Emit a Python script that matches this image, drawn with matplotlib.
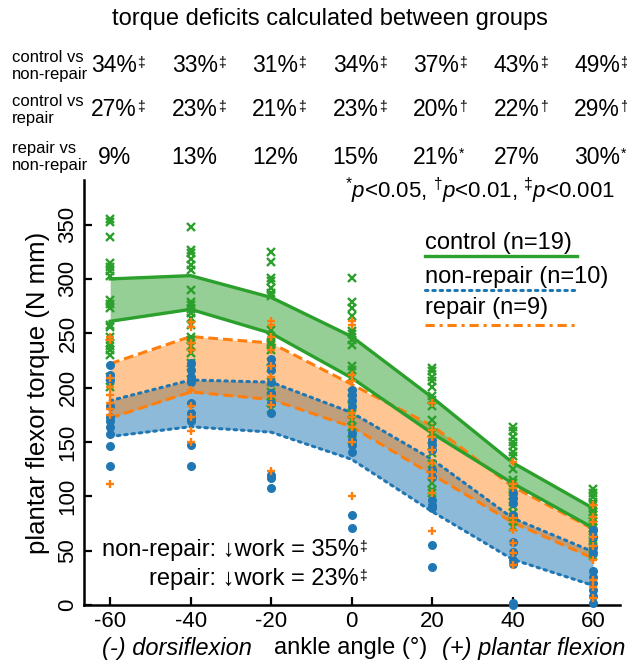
import matplotlib
matplotlib.use("Agg")
import matplotlib.pyplot as plt
import matplotlib.transforms as mtransforms

plt.rcParams['font.family'] = ['Liberation Sans', 'DejaVu Sans']
plt.rcParams['mathtext.fontset'] = 'custom'
plt.rcParams['mathtext.rm'] = 'Liberation Sans'
plt.rcParams['mathtext.it'] = 'Liberation Sans:italic'
plt.rcParams['mathtext.sf'] = 'Liberation Sans'

# ---------------- data ----------------
angles = [-60, -40, -20, 0, 20, 40, 60]
tick_labels = ['-60', '-40', '-20', '0', '20', '40', '60']

control_upper = [300, 303, 283, 247, 191, 131, 89]
control_lower = [261, 272, 250, 209, 158, 112, 71]
repair_upper = [222, 247, 241, 203, 165, 109, 70]
repair_lower = [172, 196, 189, 164, 120, 76, 43]
nonrepair_upper = [188, 207, 205, 177, 134, 80, 49]
nonrepair_lower = [155, 164, 159, 134, 86, 42, 18]

control_pts = [
    [355, 352, 339, 315, 311, 307, 303, 281, 277, 273, 258, 256, 247, 241, 238, 235, 230, 210, 201],
    [348, 327, 324, 318, 313, 308, 290, 279, 276, 272, 269, 264, 258, 247, 244, 238, 232, 223, 213],
    [325, 316, 301, 298, 292, 287, 284, 253, 247, 242, 239, 235, 224, 218, 205, 196, 192, 186, 180],
    [301, 279, 273, 266, 252, 249, 244, 239, 220, 216, 210, 195, 190, 183, 176, 170, 164, 158, 152],
    [218, 215, 210, 206, 201, 192, 189, 183, 170, 164, 158, 152, 146, 140, 130, 120, 112, 106, 103],
    [164, 160, 155, 150, 146, 141, 137, 125, 115, 112, 108, 104, 100, 95, 91, 85, 81, 77, 72],
    [107, 103, 99, 95, 92, 89, 86, 83, 80, 77, 74, 71, 68, 64, 60, 56, 52, 48, 45],
]
nonrepair_pts = [
    [221, 212, 207, 183, 173, 169, 164, 157, 146, 128],
    [223, 216, 210, 205, 186, 177, 172, 169, 147, 128],
    [226, 221, 216, 205, 195, 186, 177, 120, 117, 108],
    [198, 193, 189, 183, 158, 152, 147, 141, 83, 71],
    [152, 147, 143, 124, 118, 97, 92, 89, 55, 35],
    [103, 98, 94, 83, 58, 49, 41, 38, 2, 0],
    [69, 63, 53, 48, 31, 26, 20, 14, 8, 2],
]
repair_pts = [
    [247, 244, 209, 201, 193, 186, 180, 175, 111],
    [260, 256, 241, 235, 198, 183, 173, 160, 150],
    [261, 258, 247, 235, 220, 210, 192, 184, 123],
    [261, 258, 212, 206, 177, 173, 164, 150, 100],
    [186, 161, 155, 143, 131, 122, 117, 103, 68],
    [132, 111, 108, 80, 76, 69, 57, 48, 37],
    [92, 81, 76, 63, 54, 41, 23, 17, 6],
]

row_labels = ['control vs\nnon-repair', 'control vs\nrepair', 'repair vs\nnon-repair']
row_values = [
    ['34%', '33%', '31%', '34%', '37%', '43%', '49%'],
    ['27%', '23%', '21%', '23%', '20%', '22%', '29%'],
    ['9%', '13%', '12%', '15%', '21%', '27%', '30%'],
]
row_sig = [
    ['‡', '‡', '‡', '‡', '‡', '‡', '‡'],
    ['‡', '‡', '‡', '‡', '†', '†', '†'],
    ['', '', '', '', '*', '', '*'],
]

legend_labels = ['control (n=19)', 'non-repair (n=10)', 'repair (n=9)']

GREEN = '#2ca02c'
BLUE = '#1f77b4'
ORANGE = '#ff7f0e'

W, H = 627, 660
fig = plt.figure(figsize=(W / 100, H / 100), dpi=100)
ax = fig.add_axes([84 / W, 55 / H, 536 / W, 425 / H])

# bands
ax.fill_between(angles, nonrepair_lower, nonrepair_upper, color=BLUE, alpha=0.5, lw=0, zorder=1)
ax.fill_between(angles, repair_lower, repair_upper, color=ORANGE, alpha=0.45, lw=0, zorder=1.1)
ax.fill_between(angles, control_lower, control_upper, color=GREEN, alpha=0.5, lw=0, zorder=1.2)

for arr in (repair_upper, repair_lower):
    ax.plot(angles, arr, color=ORANGE, lw=2.2, dashes=(3.2, 1.6), zorder=2)
for arr in (nonrepair_upper, nonrepair_lower):
    ax.plot(angles, arr, color=BLUE, lw=2.2, linestyle=(0, (0.8, 1.6)), dash_capstyle='round', zorder=2.1)
for arr in (control_upper, control_lower):
    ax.plot(angles, arr, color=GREEN, lw=2.4, zorder=2.2)

# scatter points
for a, pts in zip(angles, control_pts):
    ax.plot([a] * len(pts), pts, linestyle='none', marker='x', ms=5.8, mew=1.7, color=GREEN, zorder=3, clip_on=False)
for a, pts in zip(angles, nonrepair_pts):
    ax.plot([a] * len(pts), pts, linestyle='none', marker='o', ms=6.5, mew=0, color=BLUE, zorder=3.1, clip_on=False)
for a, pts in zip(angles, repair_pts):
    ax.plot([a] * len(pts), pts, linestyle='none', marker='+', ms=6.3, mew=1.7, color=ORANGE, zorder=3.2, clip_on=False)

ax.set_xlim(-66.5, 66.7)
ax.set_ylim(0, 391)
ax.set_xticks(angles)
ax.set_xticklabels(tick_labels)
ax.set_yticks([0, 50, 100, 150, 200, 250, 300, 350])
for s in ('top', 'right'):
    ax.spines[s].set_visible(False)
for s in ('left', 'bottom'):
    ax.spines[s].set_linewidth(1.8)
ax.tick_params(direction='in', length=6, width=1.6, labelsize=16, pad=4)
for lab in ax.get_yticklabels():
    lab.set_rotation(90)
    lab.set_va('center')
ax.set_ylabel('plantar flexor torque (N mm)', fontsize=18.5, labelpad=5)

# x label pieces
fy = lambda py: 1 - py / H
fig.text(252 / W, fy(648), '(-) dorsiflexion', fontsize=17, style='italic', ha='right', va='center')
fig.text(351 / W, fy(648), 'ankle angle (°)', fontsize=17, ha='center', va='center')
fig.text(442 / W, fy(648), '(+) plantar flexion', fontsize=17, style='italic', ha='left', va='center')

# legend (drawn as labels with sample lines underneath)
leg_text_y = [0.852, 0.772, 0.699]
leg_line_y = [0.821, 0.741, 0.659]
styles = [dict(color=GREEN, lw=2.4),
          dict(color=BLUE, lw=2.2, linestyle=(0, (0.8, 1.6)), dash_capstyle='round'),
          dict(color=ORANGE, lw=2.2, linestyle=(0, (3, 1.6, 1, 1.6)))]
for lab, ty, ly, st in zip(legend_labels, leg_text_y, leg_line_y, styles):
    ax.text(0.636, ty, lab, transform=ax.transAxes, fontsize=17, ha='left', va='center')
    ax.plot([0.636, 0.92], [ly, ly], transform=ax.transAxes, clip_on=False, **st)

# work annotations
t1 = fig.text(359 / W, fy(550), 'non-repair: ↓work = 35%', fontsize=17, ha='right', va='center')
t2 = fig.text(359 / W, fy(579), 'repair: ↓work = 23%', fontsize=17, ha='right', va='center')
for t in (t1, t2):
    ax.annotate('‡', xy=(1, 1), xycoords=t, xytext=(0.3, -1), textcoords='offset points',
                ha='left', va='top', fontsize=10)

# top table
blend = mtransforms.blended_transform_factory(ax.transData, fig.transFigure)
fig.text(330 / W, fy(19), 'torque deficits calculated between groups', fontsize=17, ha='center', va='center')
row_y = [66, 110, 157]
for lab, vals, sigs, ry in zip(row_labels, row_values, row_sig, row_y):
    fig.text(12 / W, fy(ry), lab, fontsize=12, ha='left', va='center', linespacing=1.1)
    for a, v, s in zip(angles, vals, sigs):
        t = ax.text(a + 1.0, fy(ry), v, transform=blend, fontsize=16.5, ha='center', va='center', clip_on=False)
        if s:
            ax.annotate(s, xy=(1, 1), xycoords=t, xytext=(0.2, -1), textcoords='offset points',
                        ha='left', va='top', fontsize=10, annotation_clip=False)

fig.text(615 / W, fy(191), r'$^{*}p$<0.05, $^{\dagger}p$<0.01, $^{\ddagger}p$<0.001',
         fontsize=16, ha='right', va='center')

fig.savefig('out.png', dpi=100)
